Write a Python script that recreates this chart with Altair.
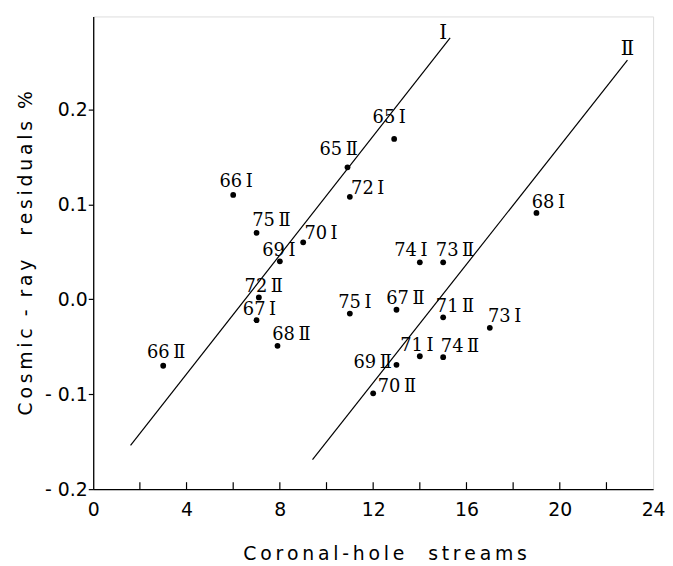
import altair as alt
import pandas as pd

# ---- data ----
years = [66, 66, 75, 70, 69, 72, 67, 68, 65, 72, 65, 74, 73, 68, 75, 67, 71, 73, 71, 74, 69, 70]
streams = ["I", "II", "II", "I", "I", "II", "I", "II", "II", "I", "I", "I", "II", "I", "I", "II", "II", "I", "I", "II", "II", "II"]
hole_streams = [6, 3, 7, 9, 8, 7.1, 7, 7.9, 10.9, 11, 12.9, 14, 15, 19, 11, 13, 15, 17, 14, 15, 13, 12]
residuals = [0.11, -0.07, 0.07, 0.06, 0.04, 0.002, -0.022, -0.049, 0.139, 0.108, 0.169, 0.039, 0.039,
             0.091, -0.015, -0.011, -0.019, -0.03, -0.06, -0.061, -0.069, -0.099]

line_names = ["I", "I", "II", "II"]
line_x = [1.6, 15.3, 9.4, 22.9]
line_y = [-0.154, 0.2755, -0.169, 0.252]

line_label_text = ["\u2160", "\u2161"]
line_label_x = [15.0, 22.9]
line_label_y = [0.274, 0.257]

x_ticks = [0, 4, 8, 12, 16, 20, 24]
x_minor = [2, 4, 6, 8, 10, 12, 14, 16, 18, 20, 22]
y_ticks = [-0.2, -0.1, 0.0, 0.1, 0.2]

# ---- layout only: label nudges in pixels (dx of label centre, dy of baseline) ----
label_offsets_px = [(3, -8), (3, -8), (15, -7), (18, -3), (-1, -5), (5, -5), (3, -5), (14, -6),
                    (-9, -12), (18, -3), (-5, -16), (-9, -6), (12, -6), (12, -5), (5, -6), (9, -6),
                    (12, -5), (15, -6), (-3, -5), (17, -5), (-24, 3), (24, -1)]

numeral = {"I": "\u2160", "II": "\u2161"}
pts = pd.DataFrame({
    "x": hole_streams,
    "y": residuals,
    "label": [f"{yr}\u2009{numeral[s]}" for yr, s in zip(years, streams)],
    "idx": list(range(len(years))),
})
lines = pd.DataFrame({"line": line_names, "x": line_x, "y": line_y})
line_labels = pd.DataFrame({"t": line_label_text, "x": line_label_x, "y": line_label_y})
minor = pd.DataFrame({"x": x_minor})


def spaced(s):
    return "\u2009".join(s)


NB = "\u00a0"
x_title = spaced("Coronal") + "\u2009-\u2009" + spaced("hole") + NB * 4 + spaced("streams")
y_title = spaced("Cosmic") + NB * 2 + "-" + NB * 2 + spaced("ray") + NB * 4 + spaced("residuals") + NB * 2 + "%"

xs = alt.Scale(domain=[0, 24], nice=False, zero=False)
ys = alt.Scale(domain=[-0.2, 0.298], nice=False, zero=False)

SANS = "DejaVu Sans"
SERIF = "DejaVu Serif"

x_axis = alt.Axis(values=x_ticks, tickSize=0, labelPadding=12, labelFontSize=19, labelFont=SANS,
                  labelColor="black", labelFlush=False, grid=False, domainColor="black", domainWidth=1.3,
                  title=x_title, titleFont=SANS, titleFontSize=19, titleFontWeight="normal",
                  titleColor="black", titleBaseline="alphabetic", titleY=71, titleX=294, titleAnchor="middle")
y_axis = alt.Axis(values=y_ticks, tickSize=5, tickColor="black", tickWidth=1.2, labelPadding=1,
                  labelFontSize=19, labelFont=SANS, labelColor="black", grid=False,
                  labelExpr="datum.value < 0 ? '- ' + format(abs(datum.value), '.1f') : format(datum.value, '.1f')",
                  domainColor="black", domainWidth=1.3,
                  title=y_title, titleFont=SANS, titleFontSize=19, titleFontWeight="normal",
                  titleColor="black", titleBaseline="alphabetic", titleX=-62, titleAnchor="middle")

base_x = alt.X("x:Q", scale=xs, axis=x_axis)
base_y = alt.Y("y:Q", scale=ys, axis=y_axis)

fit = alt.Chart(lines).mark_line(color="black", strokeWidth=1.2).encode(
    x=base_x, y=base_y, detail="line:N")

dots = alt.Chart(pts).mark_circle(color="black", opacity=1, size=34).encode(x=base_x, y=base_y)

text_layers = []
for i, (ddx, ddy) in enumerate(label_offsets_px):
    text_layers.append(
        alt.Chart(pts).transform_filter(alt.datum.idx == i).mark_text(
            font=SERIF, fontSize=18, align="center", baseline="alphabetic",
            dx=ddx, dy=ddy, color="black").encode(x=base_x, y=base_y, text="label:N")
    )

ltexts = alt.Chart(line_labels).mark_text(font=SERIF, fontSize=20, align="center", baseline="alphabetic",
                                          color="black").encode(x=base_x, y=base_y, text="t:N")

ticks = alt.Chart(minor).mark_rule(color="black", strokeWidth=1.2).encode(
    x=alt.X("x:Q", scale=xs), y=alt.value(477), y2=alt.value(470))

chart = alt.layer(fit, ticks, dots, *text_layers, ltexts).properties(
    width=565, height=477,
    padding={"left": 86, "top": 6, "right": 12, "bottom": 72},
    autosize=alt.AutoSizeParams(type="none"),
).configure_view(stroke="black", strokeWidth=1.3).configure(background="white")

chart.save("out.html", embed_options={"renderer": "svg", "actions": False})
